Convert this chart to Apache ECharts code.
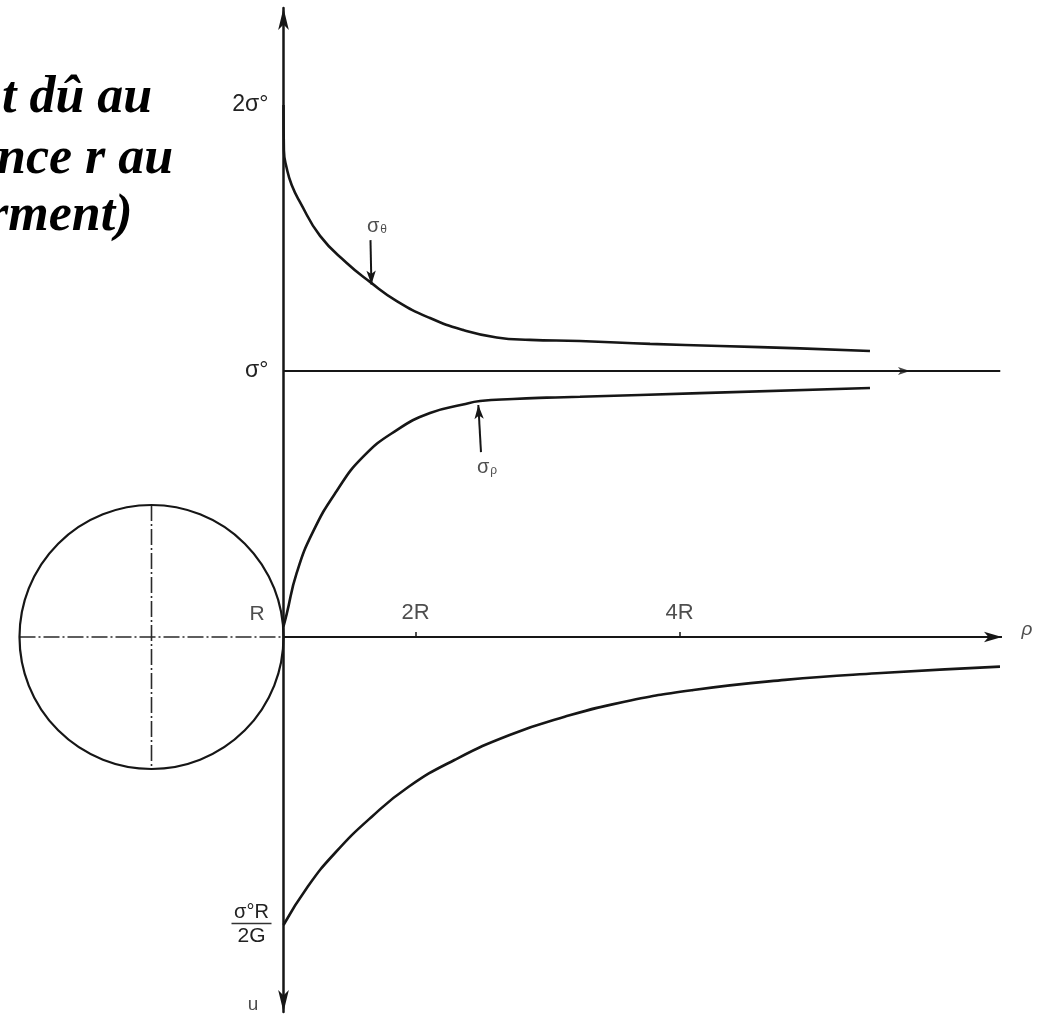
<!DOCTYPE html>
<html>
<head>
<meta charset="utf-8">
<script src="https://cdn.jsdelivr.net/npm/echarts@6/dist/echarts.min.js"></script>
<style>
  html, body { margin: 0; padding: 0; background: #fff; }
  #chart { width: 1048px; height: 1016px; }
</style>
</head>
<body>
<div id="chart"></div>
<script>
// Radial distance ρ in units of R, stresses in units of σ°, displacement in units of σ°R/2G.
const rhoTheta   = [1.000, 1.003, 1.024, 1.062, 1.125, 1.277, 1.479, 1.655, 1.858, 2.110, 2.362, 2.615, 2.867, 3.246, 3.777, 4.307, 4.913, 5.443];
const sigmaTheta = [2.000, 1.830, 1.763, 1.699, 1.635, 1.508, 1.406, 1.335, 1.263, 1.199, 1.154, 1.126, 1.117, 1.113, 1.102, 1.094, 1.085, 1.075];

const rhoRho   = [1.000, 1.024, 1.100, 1.223, 1.403, 1.602, 1.858, 2.110, 2.360, 2.489, 2.739, 2.994, 3.246, 4.155, 5.443];
const sigmaRho = [0.040, 0.086, 0.241, 0.395, 0.549, 0.677, 0.778, 0.842, 0.874, 0.887, 0.895, 0.900, 0.903, 0.917, 0.936];

const rhoU    = [1.000, 1.183, 1.390, 1.669, 1.948, 2.295, 2.713, 3.130, 3.583, 4.105, 4.799, 5.496, 6.428];
const uValues = [1.000, 0.867, 0.750, 0.624, 0.520, 0.427, 0.340, 0.277, 0.225, 0.184, 0.149, 0.126, 0.103];

const sigmaFar = 1;            // far-field stress σ°
const cavityRadius = 1;        // R
const rhoTicks = [2, 4];
const rhoTickLabels = ['2R', '4R'];
const stressTicks = [1, 2];
const stressTickLabels = ['σ°', '2σ°'];
const uTicks = [1];

// ---- layout (pixels) ----
const PX_R = 132, PX_S = 266, PX_U = 288;
const ORIGIN_X = 151.5, ORIGIN_Y = 637;
const G = { left: 6, right: 1036, top: 8, bottom: 1012 };
const xMin = (G.left - ORIGIN_X) / PX_R, xMax = (G.right - ORIGIN_X) / PX_R;
const sMax = (ORIGIN_Y - G.top) / PX_S, sMin = (ORIGIN_Y - G.bottom) / PX_S;
const uMin = -(ORIGIN_Y - G.top) / PX_U, uMax = (G.bottom - ORIGIN_Y) / PX_U;
const axisPx = ORIGIN_X + PX_R * cavityRadius;
const rhoAxisEnd = 6.443, sigmaLineEnd = 6.43;
const tickLabelLift = 0.09;    // 2R / 4R sit just above the ρ axis

const INK = '#161616';
const FONT = 'Liberation Sans';
const pairs = (xs, ys) => xs.map((x, i) => [x, ys[i]]);

const captionStyle = {
  fontFamily: 'Liberation Serif', fontStyle: 'italic', fontWeight: 'bold',
  fontSize: 52, lineHeight: 60, color: '#000'
};
const subRich = {
  s: { fontSize: 20, fontFamily: FONT, color: '#222' },
  t: { fontSize: 12, fontFamily: FONT, color: '#222', padding: [7, 0, 0, 1] }
};
const curveStyle = { color: INK, width: 2.6 };

const chart = echarts.init(document.getElementById('chart'), null, { renderer: 'canvas' });

chart.setOption({
  animation: false,
  backgroundColor: '#fff',
  title: [
    { text: 't dû au',  left: 2,   top: 69,  padding: 0, textStyle: captionStyle },
    { text: 'nce r au', left: -3,  top: 130, padding: 0, textStyle: captionStyle },
    { text: 'rment)',   left: -12, top: 187, padding: 0, textStyle: captionStyle }
  ],
  grid: {
    left: G.left, top: G.top, width: G.right - G.left, height: G.bottom - G.top,
    containLabel: false
  },
  xAxis: {
    type: 'value', min: xMin, max: xMax,
    axisLine: { show: false, onZero: true },
    splitLine: { show: false },
    axisTick: { show: true, inside: true, length: 5, customValues: rhoTicks, lineStyle: { color: INK, width: 1.5 } },
    axisLabel: { show: false }
  },
  yAxis: [
    {
      type: 'value', min: sMin, max: sMax, position: 'left',
      offset: -(axisPx - G.left),
      axisLine: {
        show: true, onZero: false,
        symbol: ['arrow', 'arrow'], symbolSize: [8, 22],
        lineStyle: { color: INK, width: 2.5 }
      },
      axisTick: { show: false },
      splitLine: { show: false },
      axisLabel: {
        customValues: stressTicks, margin: 15,
        formatter: v => stressTickLabels[stressTicks.indexOf(v)] || '',
        fontFamily: FONT, fontSize: 23, color: '#222'
      }
    },
    {
      type: 'value', inverse: true, min: uMin, max: uMax, position: 'left',
      offset: -(axisPx - G.left),
      axisLine: { show: false, onZero: false },
      axisTick: { show: false },
      splitLine: { show: false },
      axisLabel: {
        customValues: uTicks, margin: 12,
        formatter: () => '{n|σ°R}\n{bar|}\n{d|2G}',
        rich: {
          n: { fontFamily: FONT, fontSize: 20, lineHeight: 19, color: '#222', align: 'center' },
          bar: { width: 40, height: 1.5, backgroundColor: '#333', lineHeight: 4, align: 'center' },
          d: { fontFamily: FONT, fontSize: 21, lineHeight: 22, color: '#222', align: 'center' }
        }
      }
    }
  ],
  series: [
    {
      // circular cavity of radius R centred at ρ = 0, with its centre lines
      name: 'cavité', type: 'custom', clip: false, silent: true,
      xAxisIndex: 0, yAxisIndex: 0,
      data: [[0, 0, cavityRadius]],
      renderItem: (params, api) => {
        const c = api.coord([api.value(0), api.value(1)]);
        const r = api.size([api.value(2), 0])[0];
        const dash = { stroke: '#2a2a2a', lineWidth: 1.6, lineDash: [16, 3, 2, 3] };
        return {
          type: 'group',
          children: [
            { type: 'line', shape: { x1: c[0] - r, y1: c[1], x2: c[0] + r, y2: c[1] }, style: dash },
            { type: 'line', shape: { x1: c[0], y1: c[1] - r, x2: c[0], y2: c[1] + r }, style: dash },
            { type: 'circle', shape: { cx: c[0], cy: c[1], r: r }, style: { fill: 'none', stroke: INK, lineWidth: 2.2 } }
          ]
        };
      }
    },
    {
      name: 'σθ', type: 'line', xAxisIndex: 0, yAxisIndex: 0,
      data: pairs(rhoTheta, sigmaTheta),
      symbol: 'none', smooth: 0.5, lineStyle: curveStyle
    },
    {
      name: 'σρ', type: 'line', xAxisIndex: 0, yAxisIndex: 0,
      data: pairs(rhoRho, sigmaRho),
      symbol: 'none', smooth: 0.5, lineStyle: curveStyle
    },
    {
      name: 'u', type: 'line', xAxisIndex: 0, yAxisIndex: 1,
      data: pairs(rhoU, uValues),
      symbol: 'none', smooth: 0.5, lineStyle: curveStyle
    },
    {
      // far-field level σ°
      name: 'niveau', type: 'line', xAxisIndex: 0, yAxisIndex: 0, data: [],
      markLine: {
        silent: true, animation: false,
        symbol: ['none', 'none'],
        label: { show: false },
        lineStyle: { color: INK, width: 2, type: 'solid' },
        data: [
          [{ coord: [cavityRadius, sigmaFar] }, { coord: [sigmaLineEnd, sigmaFar] }]
        ]
      }
    },
    {
      // ρ axis and the two pointers naming the stress curves
      name: 'flèches', type: 'line', xAxisIndex: 0, yAxisIndex: 0, data: [],
      markLine: {
        silent: true, animation: false,
        symbol: ['none', 'arrow'],
        label: { show: false },
        lineStyle: { color: INK, width: 2, type: 'solid' },
        data: [
          [{ coord: [cavityRadius, 0] }, { coord: [rhoAxisEnd, 0], symbolSize: [8, 18] }],
          [{ coord: [1.659, 1.492] }, { coord: [1.666, 1.325], symbolSize: [7, 14] }],
          [{ coord: [2.496, 0.695] }, { coord: [2.476, 0.872], symbolSize: [7, 14] }]
        ]
      }
    },
    {
      name: 'repères', type: 'scatter', xAxisIndex: 0, yAxisIndex: 0, clip: false, silent: true,
      symbolSize: 0,
      label: { show: true, position: 'inside', color: '#222', fontFamily: FONT },
      data: [
        { value: [0.800, 0.086], label: { formatter: 'R', fontSize: 21 } },
        { value: [rhoTicks[0], tickLabelLift], label: { formatter: rhoTickLabels[0], fontSize: 22 } },
        { value: [rhoTicks[1], tickLabelLift], label: { formatter: rhoTickLabels[1], fontSize: 22 } },
        { value: [6.633, 0.026], label: { formatter: 'ρ', fontSize: 19, fontStyle: 'italic' } },
        { value: [0.769, -1.383], label: { formatter: 'u', fontSize: 19 } },
        { value: [1.708, 1.545], label: { formatter: '{s|σ}{t|θ}', rich: subRich } },
        { value: [2.542, 0.639], label: { formatter: '{s|σ}{t|ρ}', rich: subRich } }
      ]
    },
    {
      // small arrowhead drawn on the σ° level
      name: 'pointe', type: 'scatter', xAxisIndex: 0, yAxisIndex: 0, silent: true,
      symbol: 'arrow', symbolRotate: -90, symbolSize: [6, 12],
      itemStyle: { color: INK },
      data: [[5.746, sigmaFar]]
    }
  ]
});
</script>
</body>
</html>
